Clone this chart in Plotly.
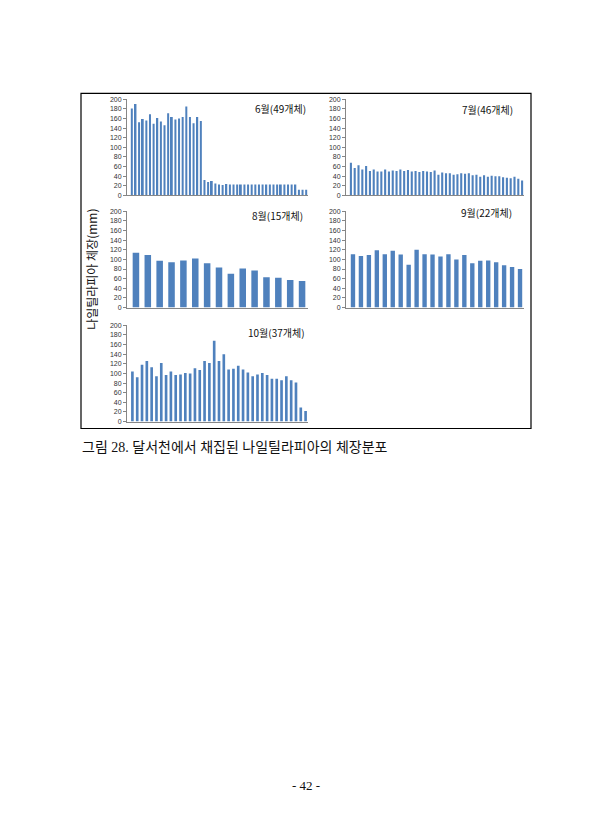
import plotly.graph_objects as go

W, H = 613, 840

# ---- data ----
jun = [181, 190, 152, 159, 156, 169, 149, 161, 154, 146, 171, 163, 158, 160, 163, 185, 163, 150, 163, 155,
       32, 28, 30, 25, 23, 22, 24, 23, 23, 23, 23, 23, 23, 23, 23, 23, 23, 23, 23, 23,
       23, 23, 23, 23, 23, 23, 12, 12, 12]
jul = [68, 57, 63, 54, 61, 51, 54, 50, 50, 54, 50, 52, 51, 54, 51, 53, 50, 51, 49, 51,
       50, 49, 52, 43, 48, 46, 46, 43, 44, 46, 45, 46, 42, 43, 39, 42, 39, 41, 40, 40,
       38, 37, 36, 39, 35, 31]
aug = [114, 109, 97, 94, 98, 102, 92, 83, 70, 81, 77, 63, 62, 57, 55]
sep = [111, 107, 109, 119, 111, 118, 110, 89, 120, 111, 110, 106, 111, 100, 109, 92, 97, 98, 94, 88, 84, 80]
oct_ = [104, 92, 118, 126, 113, 94, 122, 97, 104, 97, 98, 101, 100, 111, 107, 126, 122, 168, 126, 140,
        108, 110, 116, 108, 102, 94, 98, 101, 97, 89, 89, 86, 94, 86, 81, 29, 22]
titles = ["6월(49개체)", "7월(46개체)", "8월(15개체)", "9월(22개체)", "10월(37개체)"]
ytitle = "나일틸라피아 체장(mm)"
caption = "그림 28. 달서천에서 채집된 나일틸라피아의 체장분포"
page_no = "- 42 -"
yticks = [0, 20, 40, 60, 80, 100, 120, 140, 160, 180, 200]

series = [jun, jul, aug, sep, oct_]

# ---- layout (pixels, in page coordinates) ----
OFF = 8  # page body margin of the browser
panels = [  # x0, x1, ytop(200), ybottom(0), title right x, title center y
    (127, 308, 96, 193, 308, 105),
    (346, 524, 96, 193, 515, 106),
    (127, 308, 209, 306, 305, 213),
    (346, 524, 209, 306, 514, 210),
    (127, 308, 324, 421, 307, 331),
]

def px(x):
    return (x - OFF) / W

def py(y):
    return 1 - (y - OFF) / H

fig = go.Figure()
annotations = []
color = "#4F81BD"
axis_col = "#868686"

for i, (vals, p, t) in enumerate(zip(series, panels, titles)):
    x0, x1, yt, yb, tx, ty = p
    n = len(vals)
    idx = "" if i == 0 else str(i + 1)
    xa, ya = "x" + idx, "y" + idx
    fig.add_trace(go.Bar(x=list(range(n)), y=vals, marker_color=color, marker_line_width=0,
                         xaxis=xa, yaxis=ya, showlegend=False, hoverinfo="y"))
    width_px = x1 - x0
    pad = 3.0 * n / (width_px - 3.0)
    fig.update_layout(**{
        "xaxis" + idx: dict(domain=[px(x0), px(x1)], range=[-0.5 - pad, n - 0.5], anchor=ya,
                            showticklabels=False, showgrid=False, zeroline=False,
                            showline=True, linecolor=axis_col, linewidth=1, ticks=""),
        "yaxis" + idx: dict(domain=[py(yb), py(yt)], range=[0, 200], anchor=xa,
                            tickvals=yticks, showgrid=False, zeroline=False,
                            showline=True, linecolor=axis_col, linewidth=1,
                            ticks="outside", ticklen=3, tickcolor=axis_col,
                            tickfont=dict(size=7, color="#333333", family="Liberation Sans")),
    })
    annotations.append(dict(text=t, x=px(tx), y=py(ty), xref="paper", yref="paper",
                             xanchor="right", yanchor="middle", showarrow=False,
                             font=dict(size=10, color="#111111", family="Noto Sans CJK KR")))

annotations.append(dict(text=ytitle, x=px(92), y=py(268), xref="paper", yref="paper",
                        textangle=-90, xanchor="center", yanchor="middle", showarrow=False,
                        font=dict(size=12, color="#111111", family="Noto Sans CJK KR")))
annotations.append(dict(text=caption, x=px(80), y=py(447), xref="paper", yref="paper",
                        xanchor="left", yanchor="middle", showarrow=False,
                        font=dict(size=14, color="#111111", family="Liberation Serif, Noto Sans CJK KR")))
annotations.append(dict(text=page_no, x=px(306), y=py(788), xref="paper", yref="paper",
                        xanchor="center", yanchor="middle", showarrow=False,
                        font=dict(size=13, color="#111111", family="Liberation Serif")))

fig.update_layout(
    width=W, height=H, margin=dict(l=0, r=0, t=0, b=0),
    paper_bgcolor="white", plot_bgcolor="white", bargap=0.45,
    annotations=annotations,
    shapes=[dict(type="rect", xref="paper", yref="paper", x0=px(81), x1=px(531),
                 y0=py(428), y1=py(90), line=dict(color="black", width=1.2))],
)

fig.write_html("out.html")
